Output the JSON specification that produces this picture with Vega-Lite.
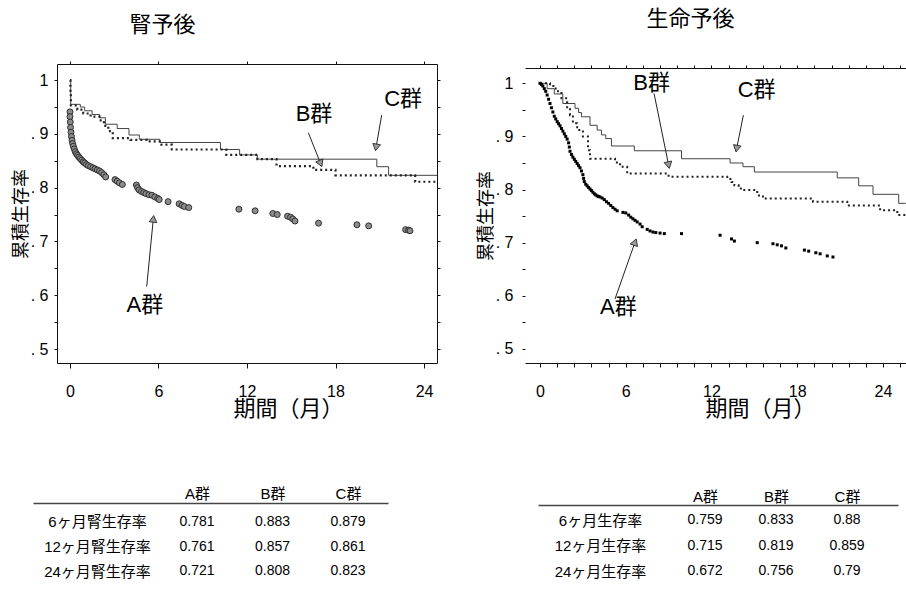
{
  "$schema": "https://vega.github.io/schema/vega-lite/v6.json",
  "padding": {"left": 7, "top": 0, "right": 0, "bottom": 0},
  "background": "white",
  "config": {
    "view": {"stroke": null},
    "font": "Liberation Sans, Noto Sans CJK JP",
    "axis": {"grid": false, "labelOverlap": false, "labelFlush": false, "domainColor": "#111", "tickColor": "#111", "labelColor": "#000", "titleColor": "#000", "titleFontWeight": "normal", "labelFont": "Liberation Sans, Noto Sans CJK JP", "titleFont": "Liberation Sans, Noto Sans CJK JP"}
  },
  "datasets": {
    "L_A": [
      {"t":0,"s":0.941},{"t":0,"s":0.932},{"t":0.02,"s":0.922},{"t":0.04,"s":0.912},{"t":0.07,"s":0.903},{"t":0.1,"s":0.895},{"t":0.14,"s":0.888},{"t":0.18,"s":0.882},{"t":0.23,"s":0.877},{"t":0.29,"s":0.872},{"t":0.36,"s":0.867},{"t":0.44,"s":0.863},{"t":0.52,"s":0.86},{"t":0.6,"s":0.857},{"t":0.7,"s":0.854},{"t":0.8,"s":0.851},{"t":0.9,"s":0.848},{"t":1.0,"s":0.846},{"t":1.12,"s":0.843},{"t":1.25,"s":0.841},{"t":1.4,"s":0.839},{"t":1.55,"s":0.837},{"t":1.7,"s":0.835},{"t":1.85,"s":0.833},{"t":2.0,"s":0.831},{"t":2.15,"s":0.828},{"t":2.3,"s":0.824},{"t":2.42,"s":0.82},{"t":3.05,"s":0.815},{"t":3.2,"s":0.812},{"t":3.35,"s":0.809},{"t":3.55,"s":0.806},{"t":4.5,"s":0.805},{"t":4.58,"s":0.8},{"t":4.68,"s":0.796},{"t":4.85,"s":0.793},{"t":5.0,"s":0.791},{"t":5.15,"s":0.789},{"t":5.35,"s":0.787},{"t":5.55,"s":0.786},{"t":5.75,"s":0.783},{"t":5.95,"s":0.78},{"t":6.05,"s":0.778},{"t":6.65,"s":0.774},{"t":7.4,"s":0.77},{"t":7.6,"s":0.767},{"t":7.75,"s":0.765},{"t":8.05,"s":0.763},{"t":11.45,"s":0.76},{"t":12.55,"s":0.757},{"t":13.75,"s":0.752},{"t":14.05,"s":0.75},{"t":14.75,"s":0.747},{"t":14.95,"s":0.745},{"t":15.1,"s":0.742},{"t":15.25,"s":0.738},{"t":16.85,"s":0.734},{"t":19.45,"s":0.731},{"t":20.25,"s":0.729},{"t":22.75,"s":0.722},{"t":22.95,"s":0.721},{"t":23.05,"s":0.72}
    ],
    "L_B": [
      {"t":0,"s":1.0},{"t":0.03,"s":0.975},{"t":0.06,"s":0.953},{"t":0.5,"s":0.945},{"t":0.9,"s":0.938},{"t":1.4,"s":0.932},{"t":2.0,"s":0.925},{"t":2.3,"s":0.915},{"t":2.6,"s":0.905},{"t":2.9,"s":0.892},{"t":4.1,"s":0.889},{"t":5.2,"s":0.886},{"t":6.2,"s":0.88},{"t":6.9,"s":0.871},{"t":10.6,"s":0.861},{"t":12.7,"s":0.853},{"t":14.0,"s":0.84},{"t":16.5,"s":0.833},{"t":18.0,"s":0.823},{"t":23.4,"s":0.811},{"t":24.88,"s":0.811}
    ],
    "L_C": [
      {"t":0,"s":1.0},{"t":0.05,"s":0.955},{"t":0.7,"s":0.95},{"t":1.0,"s":0.943},{"t":1.5,"s":0.936},{"t":2.0,"s":0.93},{"t":2.4,"s":0.918},{"t":3.2,"s":0.91},{"t":4.0,"s":0.898},{"t":4.7,"s":0.89},{"t":6.1,"s":0.884},{"t":10.2,"s":0.871},{"t":11.5,"s":0.861},{"t":12.7,"s":0.853},{"t":20.8,"s":0.839},{"t":21.6,"s":0.823},{"t":24.88,"s":0.823}
    ],
    "L_ann": [
      {"lab":"A群","t":5.08,"s":0.582,"at":5.2,"as":0.616,"bt":5.65,"bs":0.742},
      {"lab":"B群","t":16.54,"s":0.937,"at":16.16,"as":0.902,"bt":16.99,"bs":0.845},
      {"lab":"C群","t":22.58,"s":0.964,"at":21.13,"as":0.935,"bt":20.75,"bs":0.875}
    ],
    "R_A": [
      {"t":0,"s":1.0},{"t":0.1,"s":0.998},{"t":0.2,"s":0.995},{"t":0.3,"s":0.99},{"t":0.4,"s":0.985},{"t":0.5,"s":0.978},{"t":0.6,"s":0.97},{"t":0.7,"s":0.962},{"t":0.8,"s":0.954},{"t":0.9,"s":0.946},{"t":1.0,"s":0.938},{"t":1.1,"s":0.933},{"t":1.2,"s":0.928},{"t":1.3,"s":0.924},{"t":1.4,"s":0.92},{"t":1.5,"s":0.915},{"t":1.6,"s":0.91},{"t":1.7,"s":0.905},{"t":1.8,"s":0.9},{"t":1.9,"s":0.895},{"t":2.0,"s":0.888},{"t":2.05,"s":0.88},{"t":2.1,"s":0.872},{"t":2.2,"s":0.866},{"t":2.3,"s":0.861},{"t":2.4,"s":0.857},{"t":2.5,"s":0.853},{"t":2.6,"s":0.849},{"t":2.7,"s":0.845},{"t":2.8,"s":0.841},{"t":2.9,"s":0.835},{"t":3.0,"s":0.828},{"t":3.05,"s":0.821},{"t":3.1,"s":0.815},{"t":3.2,"s":0.81},{"t":3.3,"s":0.807},{"t":3.4,"s":0.804},{"t":3.5,"s":0.801},{"t":3.6,"s":0.798},{"t":3.7,"s":0.795},{"t":3.8,"s":0.792},{"t":3.9,"s":0.79},{"t":4.0,"s":0.788},{"t":4.1,"s":0.787},{"t":4.2,"s":0.786},{"t":4.35,"s":0.784},{"t":4.5,"s":0.781},{"t":4.65,"s":0.777},{"t":4.8,"s":0.774},{"t":4.95,"s":0.77},{"t":5.1,"s":0.766},{"t":5.25,"s":0.763},{"t":5.4,"s":0.76},{"t":5.8,"s":0.757},{"t":6.0,"s":0.756},{"t":6.2,"s":0.752},{"t":6.35,"s":0.748},{"t":6.5,"s":0.745},{"t":6.65,"s":0.742},{"t":6.8,"s":0.739},{"t":7.0,"s":0.735},{"t":7.15,"s":0.73},{"t":7.5,"s":0.725},{"t":7.7,"s":0.722},{"t":7.9,"s":0.72},{"t":8.1,"s":0.719},{"t":8.4,"s":0.718},{"t":8.7,"s":0.717},{"t":9.9,"s":0.717},{"t":12.6,"s":0.714},{"t":13.4,"s":0.707},{"t":13.6,"s":0.703},{"t":15.2,"s":0.7},{"t":16.3,"s":0.698},{"t":16.6,"s":0.696},{"t":16.9,"s":0.694},{"t":17.2,"s":0.69},{"t":18.5,"s":0.686},{"t":18.8,"s":0.684},{"t":19.3,"s":0.681},{"t":19.6,"s":0.679},{"t":20.1,"s":0.675},{"t":20.5,"s":0.673}
    ],
    "R_B": [
      {"t":0,"s":1.0},{"t":0.7,"s":0.995},{"t":1.1,"s":0.985},{"t":1.5,"s":0.972},{"t":1.9,"s":0.953},{"t":2.1,"s":0.94},{"t":2.3,"s":0.925},{"t":2.6,"s":0.912},{"t":3.0,"s":0.9},{"t":3.36,"s":0.874},{"t":3.5,"s":0.858},{"t":5.25,"s":0.851},{"t":5.6,"s":0.843},{"t":6.1,"s":0.83},{"t":9.0,"s":0.824},{"t":13.1,"s":0.82},{"t":13.4,"s":0.814},{"t":13.6,"s":0.808},{"t":13.9,"s":0.802},{"t":14.2,"s":0.799},{"t":15.2,"s":0.789},{"t":15.6,"s":0.783},{"t":19.1,"s":0.777},{"t":21.5,"s":0.77},{"t":23.8,"s":0.761},{"t":25.0,"s":0.752},{"t":25.6,"s":0.752}
    ],
    "R_C": [
      {"t":0,"s":1.0},{"t":0.5,"s":0.99},{"t":1.0,"s":0.98},{"t":1.6,"s":0.962},{"t":2.45,"s":0.953},{"t":2.7,"s":0.945},{"t":2.9,"s":0.937},{"t":3.5,"s":0.921},{"t":4.0,"s":0.912},{"t":4.3,"s":0.903},{"t":4.6,"s":0.896},{"t":5.0,"s":0.882},{"t":6.6,"s":0.873},{"t":9.9,"s":0.858},{"t":13.3,"s":0.85},{"t":14.2,"s":0.843},{"t":15.0,"s":0.833},{"t":20.8,"s":0.822},{"t":22.3,"s":0.807},{"t":23.3,"s":0.791},{"t":25.1,"s":0.774},{"t":25.6,"s":0.774}
    ],
    "R_ann": [
      {"lab":"A群","t":5.48,"s":0.579,"at":5.25,"as":0.594,"bt":6.65,"bs":0.701},
      {"lab":"B群","t":7.81,"s":1.0,"at":7.98,"as":0.981,"bt":9.0,"bs":0.846},
      {"lab":"C群","t":15.16,"s":0.987,"at":14.23,"as":0.94,"bt":13.76,"bs":0.877}
    ],
    "T_L": [
      {"r":"6ヶ月腎生存率","A群":0.781,"B群":0.883,"C群":0.879},
      {"r":"12ヶ月腎生存率","A群":0.761,"B群":0.857,"C群":0.861},
      {"r":"24ヶ月腎生存率","A群":0.721,"B群":0.808,"C群":0.823}
    ],
    "T_R": [
      {"r":"6ヶ月生存率","A群":0.759,"B群":0.833,"C群":0.88},
      {"r":"12ヶ月生存率","A群":0.715,"B群":0.819,"C群":0.859},
      {"r":"24ヶ月生存率","A群":0.672,"B群":0.756,"C群":0.79}
    ]
  },
  "vconcat": [
    {
      "hconcat": [
        {
          "width": 380,
          "height": 299,
          "resolve": {"axis": {"x": "independent", "y": "independent"}},
          "layer": [
            {
              "data": {"name": "L_C"},
              "mark": {"type": "line", "interpolate": "step-after", "color": "#444", "strokeWidth": 1, "clip": true},
              "encoding": {
                "x": {"field": "t", "type": "quantitative", "scale": {"domain": [-0.88, 24.88], "nice": false, "zero": false},
                  "axis": {"orient": "bottom", "values": [0, 6, 12, 18, 24], "tickSize": 5, "labelPadding": 23, "labelBaseline": "middle", "labelFontSize": 16, "title": "期間（月）", "titleFontSize": 22, "titleX": 231, "titleY": 45, "titleBaseline": "middle", "titleAlign": "center", "titleAngle": 0, "minExtent": 60, "maxExtent": 60}},
                "y": {"field": "s", "type": "quantitative", "scale": {"domain": [0.474, 1.03], "nice": false, "zero": false},
                  "axis": {"orient": "left", "values": [0.5, 0.55, 0.6, 0.65, 0.7, 0.75, 0.8, 0.85, 0.9, 0.95, 1], "tickSize": 3, "labelPadding": 6, "labelFontSize": 16, "labelExpr": "datum.value >= 0.999 ? '1' : (abs(datum.value*10 - round(datum.value*10)) < 0.01 ? '. ' + round(datum.value*10) : '')", "title": "累積生存率", "titleFontSize": 18, "titleX": -36, "titleY": 149.5, "titleBaseline": "middle", "titleAlign": "center", "titleAngle": -90, "minExtent": 50, "maxExtent": 50}}
              }
            },
            {
              "data": {"name": "L_B"},
              "mark": {"type": "line", "interpolate": "step-after", "color": "#222", "strokeWidth": 2.2, "strokeDash": [2, 3], "strokeCap": "butt", "clip": true},
              "encoding": {
                "x": {"field": "t", "type": "quantitative", "scale": {"domain": [-0.88, 24.88], "nice": false, "zero": false}, "axis": null},
                "y": {"field": "s", "type": "quantitative", "scale": {"domain": [0.474, 1.03], "nice": false, "zero": false}, "axis": null}
              }
            },
            {
              "data": {"name": "L_A"},
              "mark": {"type": "point", "shape": "circle", "filled": true, "fill": "#8c8c8c", "stroke": "#222", "strokeWidth": 0.9, "size": 36, "opacity": 1},
              "encoding": {
                "x": {"field": "t", "type": "quantitative", "scale": {"domain": [-0.88, 24.88], "nice": false, "zero": false}, "axis": null},
                "y": {"field": "s", "type": "quantitative", "scale": {"domain": [0.474, 1.03], "nice": false, "zero": false}, "axis": null}
              }
            },
            {
              "data": {"name": "L_ann"},
              "mark": {"type": "text", "fontSize": 22, "align": "center", "baseline": "middle", "color": "#000"},
              "encoding": {
                "x": {"field": "t", "type": "quantitative", "scale": {"domain": [-0.88, 24.88], "nice": false, "zero": false},
                  "axis": {"orient": "top", "values": [0, 6, 12, 18, 24], "tickSize": 3, "labels": false, "title": "腎予後", "titleFontSize": 22, "titleX": 105, "titleY": -40, "titleBaseline": "middle", "titleAlign": "center", "minExtent": 64, "maxExtent": 64}},
                "y": {"field": "s", "type": "quantitative", "scale": {"domain": [0.474, 1.03], "nice": false, "zero": false},
                  "axis": {"orient": "right", "values": [0.5, 0.55, 0.6, 0.65, 0.7, 0.75, 0.8, 0.85, 0.9, 0.95, 1], "tickSize": 3, "labels": false, "title": null, "minExtent": 5, "maxExtent": 5}},
                "text": {"field": "lab", "type": "nominal"}
              }
            },
            {
              "data": {"name": "L_ann"},
              "mark": {"type": "rule", "color": "#222", "strokeWidth": 1},
              "encoding": {
                "x": {"field": "at", "type": "quantitative", "scale": {"domain": [-0.88, 24.88], "nice": false, "zero": false}, "axis": null},
                "y": {"field": "as", "type": "quantitative", "scale": {"domain": [0.474, 1.03], "nice": false, "zero": false}, "axis": null},
                "x2": {"field": "bt"},
                "y2": {"field": "bs"}
              }
            },
            {
              "data": {"name": "L_ann"},
              "transform": [{"filter": "datum.lab == 'A群'"}],
              "mark": {"type": "point", "shape": "triangle-up", "filled": true, "fill": "#999", "stroke": "#222", "strokeWidth": 0.8, "size": 60, "angle": 6, "opacity": 1},
              "encoding": {
                "x": {"field": "bt", "type": "quantitative", "scale": {"domain": [-0.88, 24.88], "nice": false, "zero": false}, "axis": null},
                "y": {"field": "bs", "type": "quantitative", "scale": {"domain": [0.474, 1.03], "nice": false, "zero": false}, "axis": null}
              }
            },
            {
              "data": {"name": "L_ann"},
              "transform": [{"filter": "datum.lab == 'B群'"}],
              "mark": {"type": "point", "shape": "triangle-up", "filled": true, "fill": "#999", "stroke": "#222", "strokeWidth": 0.8, "size": 60, "angle": 157, "opacity": 1},
              "encoding": {
                "x": {"field": "bt", "type": "quantitative", "scale": {"domain": [-0.88, 24.88], "nice": false, "zero": false}, "axis": null},
                "y": {"field": "bs", "type": "quantitative", "scale": {"domain": [0.474, 1.03], "nice": false, "zero": false}, "axis": null}
              }
            },
            {
              "data": {"name": "L_ann"},
              "transform": [{"filter": "datum.lab == 'C群'"}],
              "mark": {"type": "point", "shape": "triangle-up", "filled": true, "fill": "#999", "stroke": "#222", "strokeWidth": 0.8, "size": 60, "angle": 190, "opacity": 1},
              "encoding": {
                "x": {"field": "bt", "type": "quantitative", "scale": {"domain": [-0.88, 24.88], "nice": false, "zero": false}, "axis": null},
                "y": {"field": "bs", "type": "quantitative", "scale": {"domain": [0.474, 1.03], "nice": false, "zero": false}, "axis": null}
              }
            }
          ]
        },
        {
          "width": 381,
          "height": 299,
          "resolve": {"axis": {"x": "independent", "y": "independent"}},
          "layer": [
            {
              "data": {"name": "R_C"},
              "mark": {"type": "line", "interpolate": "step-after", "color": "#444", "strokeWidth": 1, "clip": true},
              "encoding": {
                "x": {"field": "t", "type": "quantitative", "scale": {"domain": [-1.05, 25.61], "nice": false, "zero": false},
                  "axis": {"orient": "bottom", "values": [0, 1.2, 2.4, 3.6, 4.8, 6, 7.2, 8.4, 9.6, 10.8, 12, 13.2, 14.4, 15.6, 16.8, 18, 19.2, 20.4, 21.6, 22.8, 24, 25.2], "labelExpr": "datum.value % 6 == 0 ? datum.label : ''", "tickSize": 4, "labelPadding": 24, "labelBaseline": "middle", "labelFontSize": 16, "title": "期間（月）", "titleFontSize": 22, "titleX": 235, "titleY": 45, "titleBaseline": "middle", "titleAlign": "center", "titleAngle": 0, "minExtent": 60, "maxExtent": 60}},
                "y": {"field": "s", "type": "quantitative", "scale": {"domain": [0.4734, 1.0364], "nice": false, "zero": false},
                  "axis": {"orient": "left", "domain": false, "values": [0.5, 0.55, 0.6, 0.65, 0.7, 0.75, 0.8, 0.85, 0.9, 0.95, 1], "tickSize": 3, "labelPadding": 9, "labelFontSize": 16, "labelExpr": "datum.value >= 0.999 ? '1' : (abs(datum.value*10 - round(datum.value*10)) < 0.01 ? '. ' + round(datum.value*10) : '')", "title": "累積生存率", "titleFontSize": 18, "titleX": -39, "titleY": 151.5, "titleBaseline": "middle", "titleAlign": "center", "titleAngle": -90, "minExtent": 50, "maxExtent": 50}}
              }
            },
            {
              "data": {"name": "R_B"},
              "mark": {"type": "line", "interpolate": "step-after", "color": "#222", "strokeWidth": 2, "strokeDash": [2, 3], "strokeCap": "butt", "clip": true},
              "encoding": {
                "x": {"field": "t", "type": "quantitative", "scale": {"domain": [-1.05, 25.61], "nice": false, "zero": false}, "axis": null},
                "y": {"field": "s", "type": "quantitative", "scale": {"domain": [0.4734, 1.0364], "nice": false, "zero": false}, "axis": null}
              }
            },
            {
              "data": {"name": "R_A"},
              "mark": {"type": "point", "shape": "square", "filled": true, "color": "#000", "size": 9, "opacity": 1},
              "encoding": {
                "x": {"field": "t", "type": "quantitative", "scale": {"domain": [-1.05, 25.61], "nice": false, "zero": false}, "axis": null},
                "y": {"field": "s", "type": "quantitative", "scale": {"domain": [0.4734, 1.0364], "nice": false, "zero": false}, "axis": null}
              }
            },
            {
              "data": {"name": "R_ann"},
              "mark": {"type": "text", "fontSize": 22, "align": "center", "baseline": "middle", "color": "#000"},
              "encoding": {
                "x": {"field": "t", "type": "quantitative", "scale": {"domain": [-1.05, 25.61], "nice": false, "zero": false},
                  "axis": {"orient": "top", "offset": -4, "values": [0, 1.2, 2.4, 3.6, 4.8, 6, 7.2, 8.4, 9.6, 10.8, 12, 13.2, 14.4, 15.6, 16.8, 18, 19.2, 20.4, 21.6, 22.8, 24, 25.2], "tickSize": 3, "labels": false, "title": "生命予後", "titleFontSize": 22, "titleX": 165, "titleY": -50, "titleBaseline": "middle", "titleAlign": "center", "minExtent": 68, "maxExtent": 68}},
                "y": {"field": "s", "type": "quantitative", "scale": {"domain": [0.4734, 1.0364], "nice": false, "zero": false}, "axis": null},
                "text": {"field": "lab", "type": "nominal"}
              }
            },
            {
              "data": {"name": "R_ann"},
              "mark": {"type": "rule", "color": "#222", "strokeWidth": 1},
              "encoding": {
                "x": {"field": "at", "type": "quantitative", "scale": {"domain": [-1.05, 25.61], "nice": false, "zero": false}, "axis": null},
                "y": {"field": "as", "type": "quantitative", "scale": {"domain": [0.4734, 1.0364], "nice": false, "zero": false}, "axis": null},
                "x2": {"field": "bt"},
                "y2": {"field": "bs"}
              }
            },
            {
              "mark": {"type": "rule", "color": "#111", "strokeWidth": 1},
              "encoding": {
                "x": {"datum": -1.05, "type": "quantitative", "scale": {"domain": [-1.05, 25.61], "nice": false, "zero": false}, "axis": null},
                "y": {"datum": 0.4734, "type": "quantitative", "scale": {"domain": [0.4734, 1.0364], "nice": false, "zero": false}, "axis": null},
                "y2": {"datum": 1.029}
              }
            },
            {
              "data": {"name": "R_ann"},
              "transform": [{"filter": "datum.lab == 'A群'"}],
              "mark": {"type": "point", "shape": "triangle-up", "filled": true, "fill": "#999", "stroke": "#222", "strokeWidth": 0.8, "size": 60, "angle": 20, "opacity": 1},
              "encoding": {
                "x": {"field": "bt", "type": "quantitative", "scale": {"domain": [-1.05, 25.61], "nice": false, "zero": false}, "axis": null},
                "y": {"field": "bs", "type": "quantitative", "scale": {"domain": [0.4734, 1.0364], "nice": false, "zero": false}, "axis": null}
              }
            },
            {
              "data": {"name": "R_ann"},
              "transform": [{"filter": "datum.lab == 'B群'"}],
              "mark": {"type": "point", "shape": "triangle-up", "filled": true, "fill": "#999", "stroke": "#222", "strokeWidth": 0.8, "size": 60, "angle": 168, "opacity": 1},
              "encoding": {
                "x": {"field": "bt", "type": "quantitative", "scale": {"domain": [-1.05, 25.61], "nice": false, "zero": false}, "axis": null},
                "y": {"field": "bs", "type": "quantitative", "scale": {"domain": [0.4734, 1.0364], "nice": false, "zero": false}, "axis": null}
              }
            },
            {
              "data": {"name": "R_ann"},
              "transform": [{"filter": "datum.lab == 'C群'"}],
              "mark": {"type": "point", "shape": "triangle-up", "filled": true, "fill": "#999", "stroke": "#222", "strokeWidth": 0.8, "size": 60, "angle": 191, "opacity": 1},
              "encoding": {
                "x": {"field": "bt", "type": "quantitative", "scale": {"domain": [-1.05, 25.61], "nice": false, "zero": false}, "axis": null},
                "y": {"field": "bs", "type": "quantitative", "scale": {"domain": [0.4734, 1.0364], "nice": false, "zero": false}, "axis": null}
              }
            }
          ]
        }
      ],
      "spacing": 33
    },
    {
      "hconcat": [
        {
          "width": 331,
          "height": 85,
          "data": {"name": "T_L"},
          "transform": [{"fold": ["A群", "B群", "C群"], "as": ["col", "v"]}],
          "mark": {"type": "text", "fontSize": 14, "font": "Liberation Sans Narrow, Liberation Sans", "align": "center", "baseline": "middle", "color": "#000"},
          "encoding": {
            "x": {"field": "col", "type": "nominal", "scale": {"type": "point", "domain": ["_1", "_2", "A群", "B群", "C群"], "range": [-24, 331], "padding": 0.351, "align": 0.245},
              "axis": {"orient": "top", "domain": true, "domainColor": "#444", "domainWidth": 1.5, "ticks": false, "tickSize": 0, "labelPadding": 10, "labelBaseline": "middle", "labelFontSize": 15, "labelAngle": 0, "labelExpr": "datum.value == '_1' || datum.value == '_2' ? '' : datum.value", "title": null, "minExtent": 20, "maxExtent": 20}},
            "y": {"field": "r", "type": "nominal", "scale": {"type": "point", "domain": ["6ヶ月腎生存率", "12ヶ月腎生存率", "24ヶ月腎生存率"], "padding": 0.717, "align": 0.535},
              "axis": {"orient": "left", "domain": false, "ticks": false, "tickSize": 0, "labelPadding": -40, "labelAlign": "center", "labelBaseline": "middle", "labelFontSize": 15, "title": null, "minExtent": 26, "maxExtent": 26}},
            "text": {"field": "v", "type": "nominal"}
          }
        },
        {
          "width": 360,
          "height": 85,
          "data": {"name": "T_R"},
          "transform": [{"fold": ["A群", "B群", "C群"], "as": ["col", "v"]}],
          "mark": {"type": "text", "fontSize": 14, "font": "Liberation Sans Narrow, Liberation Sans", "align": "center", "baseline": "middle", "color": "#000"},
          "encoding": {
            "x": {"field": "col", "type": "nominal", "scale": {"type": "point", "domain": ["_1", "_2", "A群", "B群", "C群"], "padding": 0.535, "align": 0.329},
              "axis": {"orient": "top", "offset": -2, "domain": true, "domainColor": "#444", "domainWidth": 1.5, "ticks": false, "tickSize": 0, "labelPadding": 9, "labelBaseline": "middle", "labelFontSize": 15, "labelAngle": 0, "labelExpr": "datum.value == '_1' || datum.value == '_2' ? '' : datum.value", "title": null, "minExtent": 20, "maxExtent": 20}},
            "y": {"field": "r", "type": "nominal", "scale": {"type": "point", "domain": ["6ヶ月生存率", "12ヶ月生存率", "24ヶ月生存率"], "padding": 0.667, "align": 0.51},
              "axis": {"orient": "left", "domain": false, "ticks": false, "tickSize": 0, "labelPadding": -62, "labelAlign": "center", "labelBaseline": "middle", "labelFontSize": 15, "title": null, "minExtent": 63, "maxExtent": 63}},
            "text": {"field": "v", "type": "nominal"}
          }
        }
      ],
      "spacing": 63
    }
  ],
  "spacing": 60
}
